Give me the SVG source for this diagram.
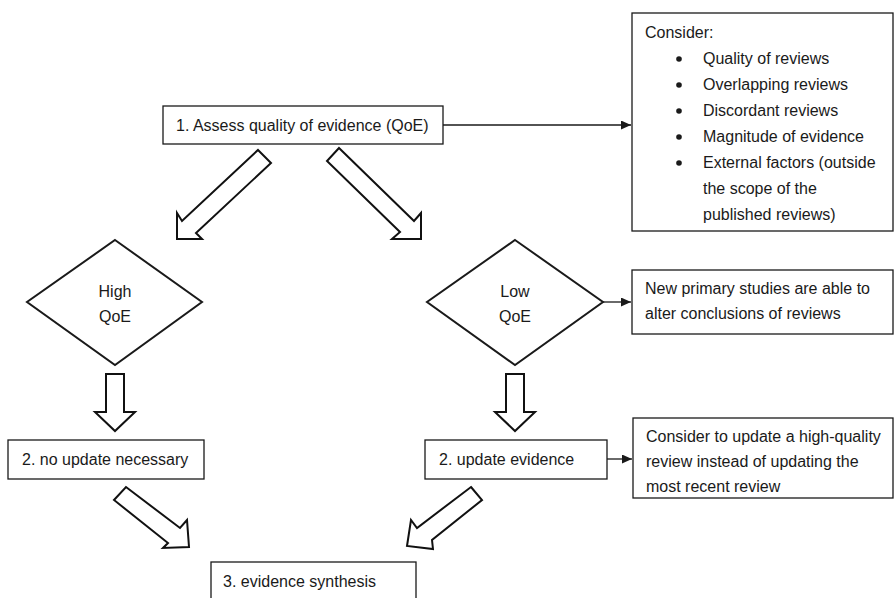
<svg xmlns="http://www.w3.org/2000/svg" width="894" height="598" viewBox="0 0 894 598">
<defs>
<style>
.box{fill:#fff;stroke:#1a1a1a;stroke-width:1.3}
.dia{fill:#fff;stroke:#1a1a1a;stroke-width:2}
.fat{fill:#fff;stroke:#111;stroke-width:2;stroke-linejoin:miter}
.ln{fill:none;stroke:#1a1a1a;stroke-width:1.3}
.t{font-family:"Liberation Sans",Arial,sans-serif;font-size:16px;fill:#1a1a1a}
.c{text-anchor:middle}
</style>
<marker id="ah" markerUnits="userSpaceOnUse" markerWidth="11" markerHeight="9" refX="10" refY="4.5" orient="auto">
<path d="M0,0 L10,4.5 L0,9 Z" fill="#1a1a1a"/>
</marker>
</defs>
<rect width="894" height="598" fill="#fff"/>

<g id="connectors">
<line class="ln" x1="443" y1="125" x2="631" y2="125" marker-end="url(#ah)"/>
<line class="ln" x1="603" y1="302" x2="631" y2="302" marker-end="url(#ah)"/>
<line class="ln" x1="607" y1="459" x2="632" y2="459" marker-end="url(#ah)"/>
<polygon class="fat" points="258,150 271,163 196,233 202,239 177,239 177,213 182,221"/>
<polygon class="fat" points="339,148 414,221 421,213 421,239 392,239 400,232 327,161"/>
<polygon class="fat" points="106,374 124,374 124,412 135,412 115,431 95,412 106,412"/>
<polygon class="fat" points="506,374 524,374 524,412 535,412 515,431 495,412 506,412"/>
<polygon class="fat" points="114,500 126,487 180,528 187,520 189,547 163,548 168,543"/>
<polygon class="fat" points="471,487 482,500 432,540 433,549 407,546 411,520 417,528"/>
</g>

<g id="assess">
<rect class="box" x="163" y="106" width="280" height="38"/>
<text class="t" x="176" y="131">1. Assess quality of evidence (QoE)</text>
</g>

<g id="consider">
<rect class="box" x="632" y="13" width="261" height="218"/>
<text class="t" x="645" y="38">Consider:</text>
<g fill="#1a1a1a">
<circle cx="679" cy="59" r="2.8"/>
<circle cx="679" cy="85" r="2.8"/>
<circle cx="679" cy="111" r="2.8"/>
<circle cx="679" cy="137" r="2.8"/>
<circle cx="679" cy="163" r="2.8"/>
</g>
<text class="t" x="703" y="64">Quality of reviews</text>
<text class="t" x="703" y="90">Overlapping reviews</text>
<text class="t" x="703" y="116">Discordant reviews</text>
<text class="t" x="703" y="142">Magnitude of evidence</text>
<text class="t" x="703" y="168">External factors (outside</text>
<text class="t" x="703" y="194">the scope of the</text>
<text class="t" x="703" y="220">published reviews)</text>
</g>

<g id="high">
<polygon class="dia" points="115,240 202,302 115,365 27,302"/>
<text class="t c" x="115" y="297">High</text>
<text class="t c" x="115" y="322">QoE</text>
</g>

<g id="low">
<polygon class="dia" points="515,240 603,302 515,365 427,302"/>
<text class="t c" x="515" y="297">Low</text>
<text class="t c" x="515" y="322">QoE</text>
</g>

<g id="newprimary">
<rect class="box" x="632" y="270" width="261" height="64"/>
<text class="t" x="645" y="294">New primary studies are able to</text>
<text class="t" x="645" y="319">alter conclusions of reviews</text>
</g>

<g id="noupdate">
<rect class="box" x="8" y="440" width="196" height="39"/>
<text class="t" x="22" y="465">2. no update necessary</text>
</g>

<g id="update">
<rect class="box" x="425" y="440" width="182" height="39"/>
<text class="t" x="439" y="465">2. update evidence</text>
</g>

<g id="considerupdate">
<rect class="box" x="633" y="418" width="260" height="80"/>
<text class="t" x="646" y="442">Consider to update a high-quality</text>
<text class="t" x="646" y="467">review instead of updating the</text>
<text class="t" x="646" y="492">most recent review</text>
</g>

<g id="synthesis">
<rect class="box" x="211" y="562" width="205" height="50"/>
<text class="t" x="223" y="587">3. evidence synthesis</text>
</g>
</svg>
